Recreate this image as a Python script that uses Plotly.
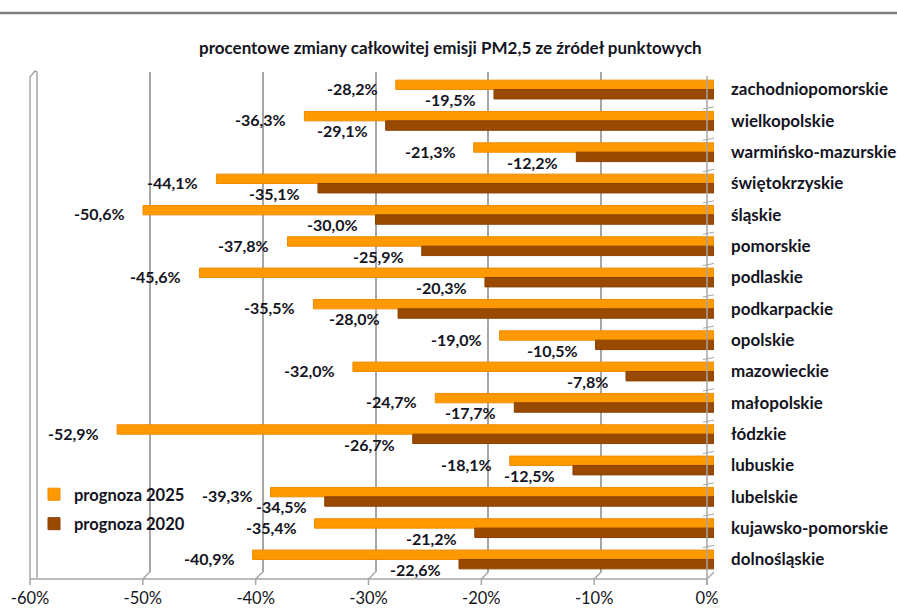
import plotly.graph_objects as go

# Regions (top to bottom) and percentage change of total PM2.5 emission from point sources
regions = [
    "zachodniopomorskie", "wielkopolskie", "warmińsko-mazurskie", "świętokrzyskie",
    "śląskie", "pomorskie", "podlaskie", "podkarpackie", "opolskie", "mazowieckie",
    "małopolskie", "łódzkie", "lubuskie", "lubelskie", "kujawsko-pomorskie", "dolnośląskie",
]
prognoza_2025 = [-28.2, -36.3, -21.3, -44.1, -50.6, -37.8, -45.6, -35.5,
                 -19.0, -32.0, -24.7, -52.9, -18.1, -39.3, -35.4, -40.9]
prognoza_2020 = [-19.5, -29.1, -12.2, -35.1, -30.0, -25.9, -20.3, -28.0,
                 -10.5, -7.8, -17.7, -26.7, -12.5, -34.5, -21.2, -22.6]
x_ticks = [-60, -50, -40, -30, -20, -10, 0]
x_tick_labels = ["-60%", "-50%", "-40%", "-30%", "-20%", "-10%", "0%"]

ORANGE = "#FF9900"
BROWN = "#994A00"
GRID = "#A6A6A6"
TEXT = "#141422"
FONT = "Lato"

W, H = 897, 608
ML, MR, MT, MB = 37, 183, 72, 36
PW, PH = W - ML - MR, H - MT - MB


def px(x):
    """pixel column -> paper x"""
    return (x - ML) / PW


def py(y):
    """pixel row -> paper y"""
    return (H - MB - y) / PH


def pct(v):
    return f"{v:.1f}%".replace(".", ",")


ypos = list(range(len(regions)))

fig = go.Figure()
fig.add_trace(go.Bar(
    x=prognoza_2025, y=ypos, orientation="h", name="prognoza 2025",
    marker=dict(color=ORANGE, line=dict(color="#EE8C00", width=1)),
    legendgroup="a", hoverinfo="skip",
))
fig.add_trace(go.Bar(
    x=prognoza_2020, y=ypos, orientation="h", name="prognoza 2020",
    marker=dict(color=BROWN, line=dict(color="#8A4200", width=1)),
    legendgroup="b", hoverinfo="skip",
))

label_font = dict(family=FONT, size=16, color=TEXT, weight="bold")
annotations = []
for i, (a, b) in enumerate(zip(prognoza_2025, prognoza_2020)):
    annotations.append(dict(
        x=a, y=i, xref="x", yref="y", text=pct(a), showarrow=False,
        xanchor="right", yanchor="middle", xshift=-16, yshift=1,
        font=label_font,
    ))
    annotations.append(dict(
        x=b, y=i, xref="x", yref="y", text=pct(b), showarrow=False,
        xanchor="right", yanchor="middle", xshift=-16, yshift=-10,
        font=label_font,
    ))

# title
annotations.append(dict(
    x=px(450), y=py(48), xref="paper", yref="paper", showarrow=False,
    text="procentowe zmiany całkowitej emisji PM2,5 ze źródeł punktowych",
    xanchor="center", yanchor="middle",
    font=dict(family=FONT, size=17, color=TEXT, weight="bold"),
))

line_style = dict(color=GRID, width=1.5)
shapes = [
    # rule across the top of the page
    dict(type="line", xref="paper", yref="paper", x0=px(0), x1=px(W),
         y0=py(13), y1=py(13), line=dict(color="#7F7F7F", width=2.5)),
    # left wall slab
    dict(type="path", xref="paper", yref="paper",
         path=f"M {px(30)} {py(585)} L {px(30)} {py(77)} L {px(35)} {py(71)} "
              f"L {px(37)} {py(72)} L {px(37)} {py(578)}",
         line=line_style),
    # floor front edge
    dict(type="line", xref="paper", yref="paper", x0=px(30), x1=px(707),
         y0=py(579), y1=py(579), line=line_style),
    # right wall front edge
    dict(type="line", xref="paper", yref="paper", x0=px(707), x1=px(707),
         y0=py(76), y1=py(585), line=line_style),
]
# floor: gridlines bending toward the viewer, then small tick stubs
for t in x_ticks:
    shapes.append(dict(type="line", xref="x", yref="paper", xsizemode="pixel",
                       xanchor=t, x0=0, x1=-7, y0=py(572), y1=py(579),
                       line=line_style))
    shapes.append(dict(type="line", xref="x", yref="paper", xsizemode="pixel",
                       xanchor=t, x0=-7, x1=-7, y0=py(579), y1=py(585),
                       line=line_style))
# category separators on the right wall
for i in ypos:
    shapes.append(dict(type="line", xref="x", yref="y", xsizemode="pixel",
                       xanchor=0, x0=-11, x1=0, y0=i + 0.62, y1=i + 0.55,
                       line=dict(color=GRID, width=1)))

fig.update_layout(
    width=W, height=H,
    margin=dict(l=ML, r=MR, t=MT, b=MB, autoexpand=False),
    paper_bgcolor="white", plot_bgcolor="white",
    barmode="group", bargap=0.4, bargroupgap=0,
    showlegend=True,
    legend=dict(
        x=px(34), y=py(477), xanchor="left", yanchor="top",
        traceorder="grouped", tracegroupgap=5,
        font=dict(family=FONT, size=16.5, color=TEXT, weight="bold"),
        bgcolor="rgba(0,0,0,0)", itemwidth=30,
    ),
    xaxis=dict(
        range=[-60, 0], tickvals=x_ticks, ticktext=x_tick_labels,
        showgrid=True, gridcolor=GRID, gridwidth=2, zeroline=False,
        showline=False, ticks="", ticklabelshift=-7, ticklabelstandoff=14,
        tickfont=dict(family=FONT, size=16.5, color=TEXT),
        automargin=False, fixedrange=True,
    ),
    yaxis=dict(
        range=[15.4, -0.56], tickvals=ypos, ticktext=regions, side="right",
        showgrid=False, zeroline=False, showline=False, ticks="",
        ticklabelstandoff=16,
        tickfont=dict(family=FONT, size=17, color=TEXT, weight="bold"),
        automargin=False, fixedrange=True,
    ),
    annotations=annotations,
    shapes=shapes,
)

fig.write_html("out.html")
